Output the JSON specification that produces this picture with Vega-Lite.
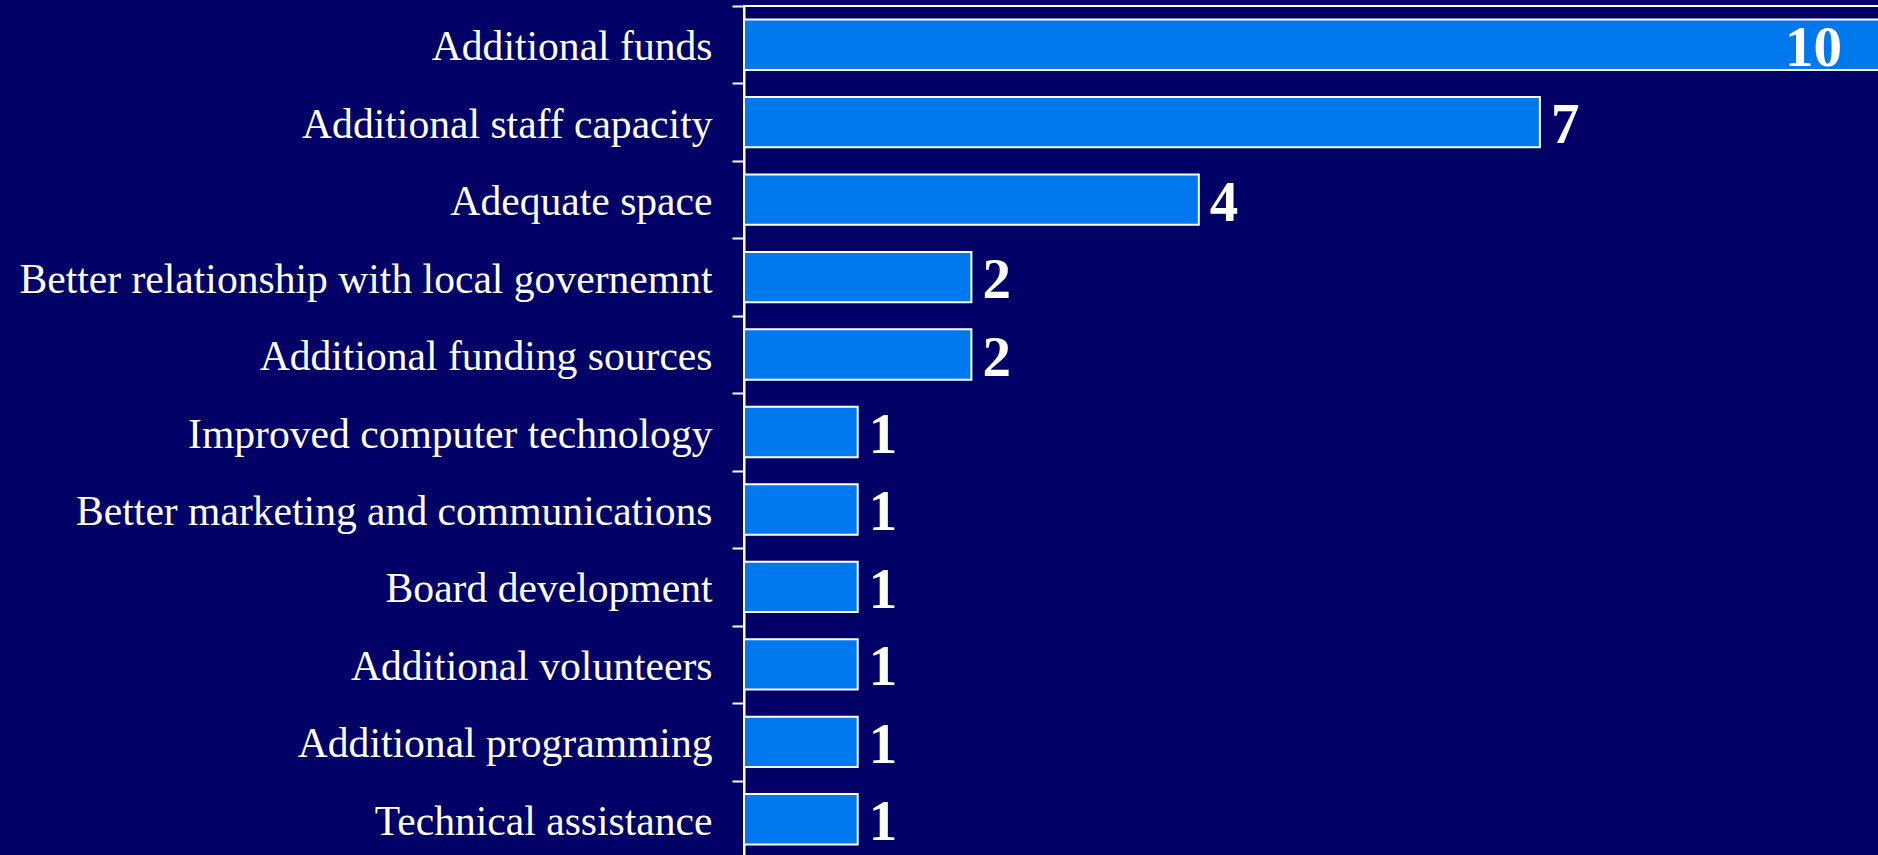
{
  "$schema": "https://vega.github.io/schema/vega-lite/v6.json",
  "width": 1137,
  "height": 852,
  "autosize": "none",
  "padding": {"left": 744, "top": 6, "right": 0, "bottom": 0},
  "background": "#000066",
  "config": {
    "view": {"stroke": "white", "strokeWidth": 2},
    "font": "Liberation Serif"
  },
  "data": {
    "values": [
      {"item": "Additional funds", "count": 10},
      {"item": "Additional staff capacity", "count": 7},
      {"item": "Adequate space", "count": 4},
      {"item": "Better relationship with local governemnt", "count": 2},
      {"item": "Additional funding sources", "count": 2},
      {"item": "Improved computer technology", "count": 1},
      {"item": "Better marketing and communications", "count": 1},
      {"item": "Board development", "count": 1},
      {"item": "Additional volunteers", "count": 1},
      {"item": "Additional programming", "count": 1},
      {"item": "Technical assistance", "count": 1}
    ]
  },
  "encoding": {
    "y": {
      "field": "item",
      "type": "nominal",
      "sort": null,
      "scale": {"paddingInner": 0.35, "paddingOuter": 0.175},
      "axis": {
        "title": null,
        "domainColor": "white",
        "domainWidth": 2,
        "tickColor": "white",
        "tickWidth": 2,
        "tickSize": 12,
        "tickOffset": -38.7,
        "labelColor": "white",
        "labelFont": "Liberation Serif",
        "labelFontSize": 41.6,
        "labelPadding": 20,
        "labelOffset": 41.7,
        "labelLimit": 1000
      }
    },
    "x": {
      "field": "count",
      "type": "quantitative",
      "scale": {"domain": [0, 10], "nice": false},
      "axis": null
    }
  },
  "layer": [
    {
      "mark": {"type": "bar", "color": "#0079EF", "stroke": "white", "strokeWidth": 2}
    },
    {
      "transform": [{"filter": "datum.count < 10"}],
      "mark": {"type": "text", "align": "left", "baseline": "middle", "dx": 11, "dy": 4, "color": "white", "fontWeight": "bold", "fontSize": 57, "font": "Liberation Serif"},
      "encoding": {"text": {"field": "count", "type": "quantitative"}}
    },
    {
      "transform": [{"filter": "datum.count >= 10"}],
      "mark": {"type": "text", "align": "right", "baseline": "middle", "dx": -39, "dy": 4, "color": "white", "fontWeight": "bold", "fontSize": 57, "font": "Liberation Serif"},
      "encoding": {"text": {"field": "count", "type": "quantitative"}}
    }
  ]
}
